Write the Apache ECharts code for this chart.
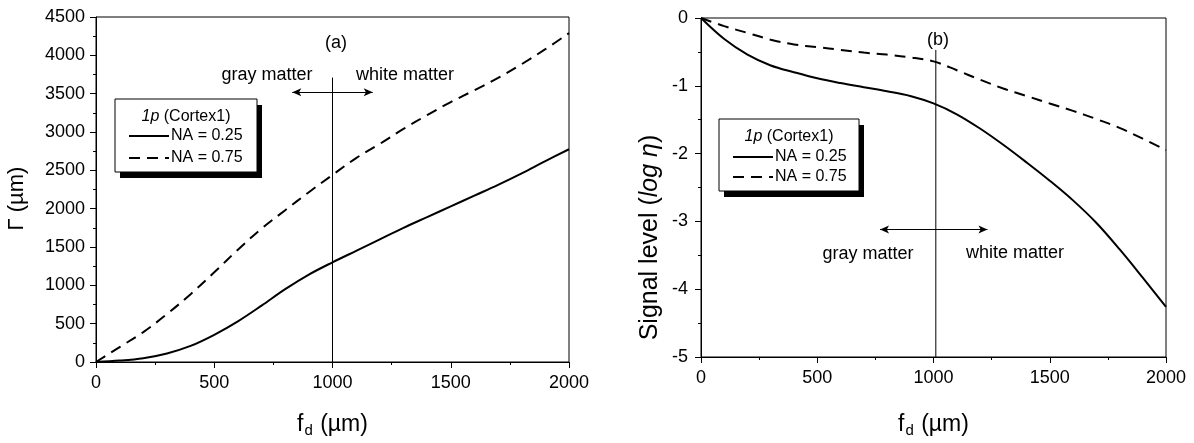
<!DOCTYPE html>
<html><head><meta charset="utf-8">
<script src="https://cdn.jsdelivr.net/npm/echarts@6/dist/echarts.min.js"></script>
<style>html,body{margin:0;padding:0;background:#fff}#c{width:1194px;height:443px}</style>
</head><body><div id="c"></div>
<script>
// focal depth f_d (µm)
const fd = [0,100,200,300,400,500,600,700,800,900,1000,1100,1200,1300,1400,1500,1600,1700,1800,1900,2000];
// panel (a): Γ (µm)
const gammaNA025 = [0,18,50,112,210,355,530,735,950,1140,1300,1450,1600,1750,1890,2030,2170,2310,2460,2620,2775];
const gammaNA075 = [0,195,390,625,885,1170,1465,1740,1980,2215,2440,2660,2845,3040,3220,3390,3545,3705,3885,4080,4290];
// panel (b): signal level (log η)
const signalNA025 = [0,-0.31,-0.54,-0.70,-0.80,-0.89,-0.96,-1.02,-1.08,-1.15,-1.26,-1.42,-1.63,-1.87,-2.13,-2.40,-2.69,-3.02,-3.41,-3.83,-4.26];
const signalNA075 = [0,-0.12,-0.22,-0.32,-0.39,-0.43,-0.47,-0.51,-0.54,-0.58,-0.64,-0.77,-0.91,-1.04,-1.15,-1.26,-1.37,-1.49,-1.62,-1.78,-1.95];
// gray / white matter boundary and arrows
const boundaryA = [[1000,0],[1000,3710]];
const boundaryB = [[1010,-5],[1010,-0.47]];
const arrowA = [[830,3520],[1170,3520]];
const arrowB = [[770,-3.12],[1232,-3.12]];
// axis ticks
const xTicks = {min:0,max:2000,interval:500};
const yTicksA = {min:0,max:4500,interval:500};
const yTicksB = {min:-5,max:0,interval:1};
const seriesNames = ['NA = 0.25','NA = 0.75'];

const FONT = 'Liberation Sans, Arial, Helvetica, sans-serif';
const chart = echarts.init(document.getElementById('c'));
const zip = (xs, ys) => xs.map((x,i)=>[x, ys[i]]);
const plain = v => String(v);

function xAxis(gi){
  return {type:'value', gridIndex:gi, min:xTicks.min, max:xTicks.max, interval:xTicks.interval,
    axisLine:{show:true, onZero:false, lineStyle:{color:'#000', width:1}},
    axisTick:{show:true, inside:false, length:6, lineStyle:{color:'#000'}},
    minorTick:{show:true, splitNumber:2, length:3, lineStyle:{color:'#000'}},
    splitLine:{show:false}, minorSplitLine:{show:false},
    axisLabel:{color:'#000', fontSize:18, fontFamily:FONT, margin:12, formatter:plain},
    name:'{a|f}{s|d}{a| (µm)}', nameLocation:'middle', nameGap: gi===0?50:55,
    nameTextStyle:{rich:{a:{fontSize:23, fontFamily:FONT, color:'#000', lineHeight:26},
      s:{fontSize:15, fontFamily:FONT, color:'#000', verticalAlign:'bottom', lineHeight:10, padding:[16,1,0,1]}}}
  };
}
function yAxis(gi, t, name, gap, rich, shiftDown){
  return {type:'value', gridIndex:gi, min:t.min, max:t.max, interval:t.interval,
    axisLine:{show:true, onZero:false, lineStyle:{color:'#000', width:1}},
    axisTick:{show:true, inside:false, length:6, lineStyle:{color:'#000'}},
    minorTick:{show:true, splitNumber:2, length:3, lineStyle:{color:'#000'}},
    splitLine:{show:false}, minorSplitLine:{show:false},
    axisLabel:{color:'#000', fontSize:18, fontFamily:FONT, margin:gi===0?11:13, formatter:plain},
    name:name, nameLocation:'middle', nameGap:gap, nameRotate:90,
    nameTextStyle:{rich:rich, padding:[0, 2*shiftDown, 0, 0]}
  };
}
const curve = (name, gi, data, dashed) => ({
  name:name, type:'line', xAxisIndex:gi, yAxisIndex:gi, data:data, smooth:0.35,
  symbol:'none', silent:true, itemStyle:{color:'#000'},
  lineStyle:{color:'#000', width:2, type: dashed ? [11,7] : 'solid'}
});
const boundary = (gi, data, arrow) => ({
  name:'boundary', type:'line', xAxisIndex:gi, yAxisIndex:gi, data:data, symbol:'none', silent:true,
  lineStyle:{color:'#000', width:1}, itemStyle:{color:'#000'},
  markLine:{silent:true, symbol:['arrow','arrow'], symbolSize:[6,9], label:{show:false},
    lineStyle:{color:'#000', width:1, type:'solid'},
    data:[[{coord:arrow[0]},{coord:arrow[1]}]]}
});

function legendBox(x, y, w, h, titleY){
  return [
    {type:'rect', shape:{x:x+5, y:y+6, width:w, height:h}, style:{fill:'#000'}, z:10},
    {type:'rect', shape:{x:x, y:y, width:w, height:h}, style:{fill:'#fff', stroke:'#000', lineWidth:1}, z:11},
    {type:'text', x:x+w/2, y:titleY, z:12, style:{text:'{i|1p} (Cortex1)', align:'center', verticalAlign:'middle',
      fontSize:16, fontFamily:FONT, fill:'#000', rich:{i:{fontStyle:'italic', fontSize:16, fontFamily:FONT}}}}
  ];
}
const txt = (x, y, s) => ({type:'text', x:x, y:y, z:12, style:{text:s, align:'center', verticalAlign:'middle',
  fontSize:18, fontFamily:FONT, fill:'#000'}});
const legendCommon = {data:seriesNames, orient:'vertical', itemWidth:40, itemHeight:14, padding:0,
  itemStyle:{opacity:0, borderWidth:0}, textStyle:{fontSize:16, fontFamily:FONT, color:'#000', padding:[0,0,0,-3]},
  z:20, selectedMode:false};

chart.setOption({
  animation:false,
  backgroundColor:'#fff',
  grid:[
    {left:96, top:17, width:473, height:348, show:true, borderColor:'#000', borderWidth:1, containLabel:false},
    {left:701, top:18, width:465, height:342, show:true, borderColor:'#000', borderWidth:1, containLabel:false}
  ],
  xAxis:[xAxis(0), xAxis(1)],
  yAxis:[
    yAxis(0, yTicksA, '{a|Γ (µm)}', 68, {a:{fontSize:22, fontFamily:FONT, color:'#000'}}, 9),
    yAxis(1, yTicksB, '{a|Signal level (}{i|log η}{a|)}', 38,
      {a:{fontSize:25, fontFamily:FONT, color:'#000'}, i:{fontSize:25, fontFamily:FONT, fontStyle:'italic', color:'#000'}}, 50)
  ],
  legend:[
    Object.assign({left:128, top:128, itemGap:6}, legendCommon),
    Object.assign({left:732, top:149, itemGap:4}, legendCommon)
  ],
  graphic:[].concat(
    legendBox(115, 99, 142, 73, 117),
    legendBox(719, 119, 140, 72, 137),
    [txt(267, 75, 'gray matter'), txt(405, 75, 'white matter'), txt(336, 43, '(a)'),
     txt(868, 254, 'gray matter'), txt(1015, 253, 'white matter'), txt(938, 40, '(b)')]
  ),
  series:[
    curve(seriesNames[0], 0, zip(fd, gammaNA025), false),
    curve(seriesNames[1], 0, zip(fd, gammaNA075), true),
    curve(seriesNames[0], 1, zip(fd, signalNA025), false),
    curve(seriesNames[1], 1, zip(fd, signalNA075), true),
    boundary(0, boundaryA, arrowA),
    boundary(1, boundaryB, arrowB)
  ]
});
</script></body></html>
